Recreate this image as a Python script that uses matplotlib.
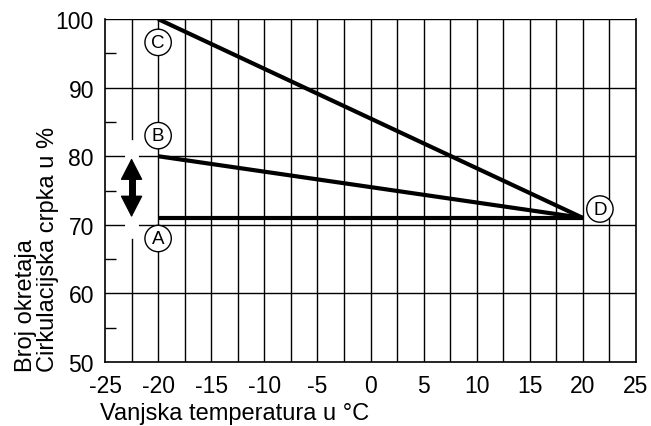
import matplotlib.pyplot as plt
import numpy as np

plt.rcParams['font.family'] = ['Liberation Sans', 'DejaVu Sans']

# outside temperature endpoints and pump speed for each curve
temps = [-20, 20]
curve_a = [71, 71]
curve_b = [80, 71]
curve_c = [100, 71]

# circled marker letters: (letter, x, y)
markers = [('A', -20, 68.0), ('B', -20, 83.0), ('C', -20, 96.6), ('D', 21.6, 72.3)]

x_ticks = np.arange(-25, 26, 5)
y_ticks = np.arange(50, 101, 10)

fig = plt.figure(figsize=(6.51, 4.27), dpi=100)
ax = fig.add_axes([0.1613, 0.150, 0.8157, 0.803])

ax.set_xlim(-25, 25)
ax.set_ylim(50, 100)

# grid: verticals every 2.5, horizontals every 10
for gx in np.arange(-22.5, 25, 2.5):
    ax.axvline(gx, color='black', lw=1, zorder=1)
for gy in y_ticks[1:]:
    ax.axhline(gy, color='black', lw=1, zorder=1)

# white gap behind the double arrow, then the arrow itself
ax.plot([-22.5, -22.5], [69.0, 81.3], color='white', lw=10, zorder=2, solid_capstyle='round')
ax.plot([-22.5, -22.5], [73.5, 77.3], color='black', lw=5, zorder=3, solid_capstyle='butt')
ax.annotate('', xy=(-22.5, 71.1), xytext=(-22.5, 79.7),
            arrowprops=dict(arrowstyle='<|-|>,head_width=0.36,head_length=0.7',
                            lw=1, color='black', mutation_scale=20,
                            shrinkA=0, shrinkB=0), zorder=3)

for vals in (curve_a, curve_b, curve_c):
    ax.plot(temps, vals, color='black', lw=3, solid_capstyle='butt', zorder=4)

for letter, mx, my in markers:
    ax.text(mx, my, letter, ha='center', va='center', fontsize=13.5, zorder=6,
            bbox=dict(boxstyle='circle,pad=0.25', fc='white', ec='black', lw=1))

ax.set_xticks(x_ticks)
ax.set_yticks(y_ticks)
ax.set_xticklabels([str(t) for t in x_ticks], fontsize=16.5)
ax.set_yticklabels([str(t) for t in y_ticks], fontsize=16.5)
ax.tick_params(axis='x', which='major', length=0, pad=9)
ax.tick_params(axis='y', which='major', length=0, pad=8)
ax.set_yticks(np.arange(55, 100, 10), minor=True)
ax.tick_params(axis='y', which='minor', direction='in', length=8, width=1)
ax.tick_params(axis='x', which='minor', length=0)

for s in ax.spines.values():
    s.set_linewidth(1.2)
ax.spines['top'].set_visible(False)

fig.text(0.023, 0.129, 'Broj okretaja\nCirkulacijska crpka u %', rotation=90,
         ha='left', va='bottom', multialignment='left', fontsize=17, linespacing=1.0)
fig.text(0.153, 0.017, 'Vanjska temperatura u °C', ha='left', va='baseline', fontsize=17)

fig.savefig('out.png', dpi=100)
